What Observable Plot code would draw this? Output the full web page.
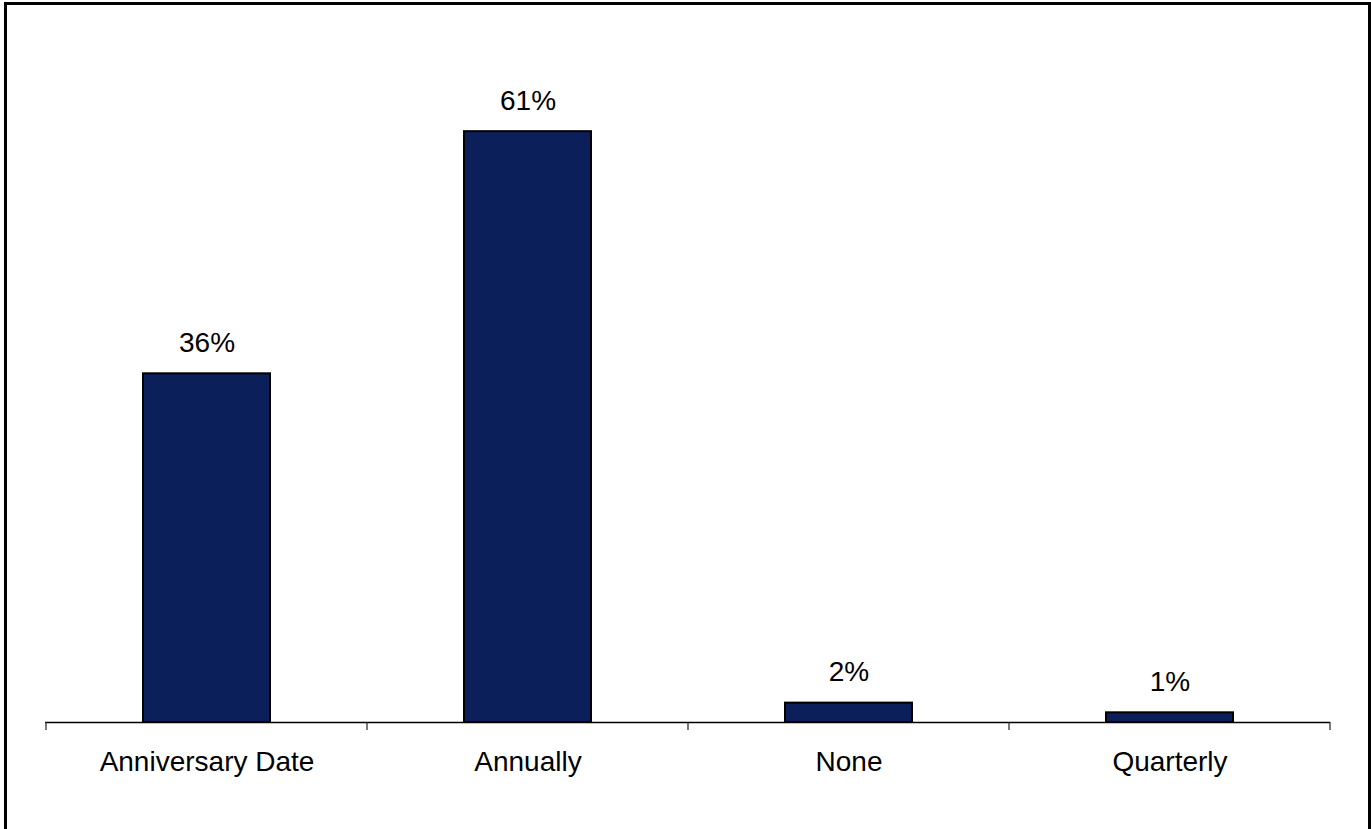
<!DOCTYPE html>
<html>
<head>
<meta charset="utf-8">
<script src="https://cdn.jsdelivr.net/npm/d3@7"></script>
<script src="https://cdn.jsdelivr.net/npm/@observablehq/plot@0.6"></script>
<style>
  html, body { margin: 0; padding: 0; background: #fff; }
  #wrap { position: relative; width: 1371px; height: 829px; overflow: hidden; }
  #chart { position: absolute; left: 0; top: 0; }
  #border {
    position: absolute; left: 4px; top: 2px; width: 1367px; height: 860px;
    box-sizing: border-box; border: 3px solid #000; pointer-events: none;
  }
</style>
</head>
<body>
<div id="wrap">
  <div id="chart"></div>
  <div id="border"></div>
</div>
<script>
// Review frequency shares (percent of respondents)
const categories = ["Anniversary Date", "Annually", "None", "Quarterly"];
const shares = [36, 61, 2, 1];
const valueLabels = ["36%", "61%", "2%", "1%"];

const data = categories.map((c, i) => ({category: c, share: shares[i], label: valueLabels[i]}));

const font = "'Liberation Sans', Arial, sans-serif";

const plot = Plot.plot({
  width: 1371,
  height: 829,
  marginLeft: 45,
  marginRight: 41,
  marginTop: 44,
  marginBottom: 107,
  style: {fontFamily: font, fontSize: "28px", color: "#000", background: "transparent"},
  x: {domain: categories, padding: 0, label: null},
  y: {domain: [0, 70], axis: null},
  marks: [
    Plot.barY(data, {
      x: "category", y: "share",
      fill: "#0b1f5a", stroke: "#000", strokeWidth: 2,
      insetLeft: 97, insetRight: 97
    }),
    Plot.text(data, {
      x: "category", y: "share", text: "label",
      lineAnchor: "bottom", dy: -22, fill: "#000",
      fontSize: 28
    }),
    Plot.ruleY([0], {stroke: "#000", strokeWidth: 1.5}),
    Plot.axisX({tickSize: 0, tickPadding: 29, fontSize: 28, fill: "#000", label: null})
  ]
});

document.getElementById("chart").appendChild(plot);

// Category separator ticks at the band edges, below the baseline
const xs = plot.scale("x");
const ys = plot.scale("y");
const base = ys.apply(0);
const edges = categories.map(c => xs.apply(c)).concat([xs.apply(categories[categories.length - 1]) + xs.bandwidth]);
d3.select(plot).append("g")
  .attr("stroke", "#222")
  .attr("stroke-width", 1.2)
  .selectAll("line")
  .data(edges)
  .join("line")
  .attr("x1", d => d).attr("x2", d => d)
  .attr("y1", base).attr("y2", base + 8);
</script>
</body>
</html>
